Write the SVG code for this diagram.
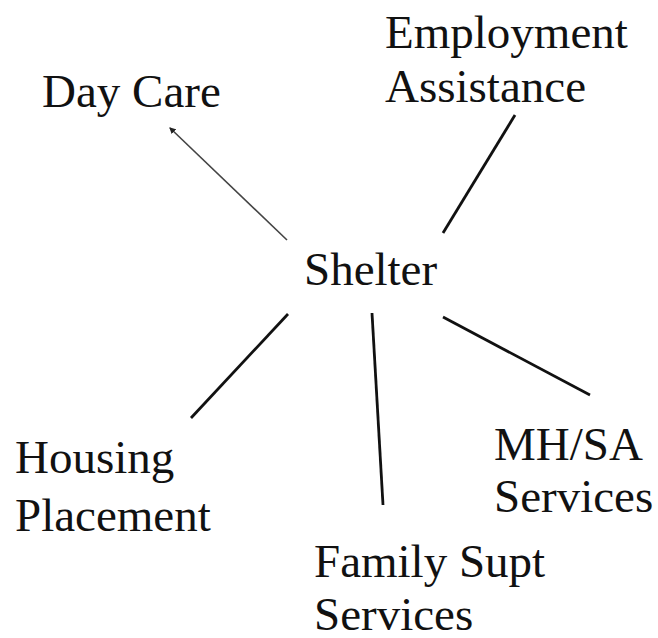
<svg xmlns="http://www.w3.org/2000/svg" width="658" height="638" viewBox="0 0 658 638">
  <style>
    text { font-family: "Liberation Serif", "Times New Roman", serif; font-size: 47px; fill: #111; }
    .link { fill: none; stroke: #111; stroke-width: 2.8; stroke-linecap: butt; }
    .thin { fill: none; stroke: #444; stroke-width: 1.6; }
  </style>
  <defs>
    <marker id="tip" viewBox="0 0 6 6" refX="5" refY="3" markerWidth="4" markerHeight="4" orient="auto" markerUnits="strokeWidth">
      <path d="M0,0 L6,3 L0,6 Z" fill="#222"/>
    </marker>
  </defs>
  <rect width="658" height="638" fill="#fff"/>

  <!-- spokes from the central node -->
  <g id="connectors">
    <line class="thin" x1="287" y1="240" x2="170" y2="128" marker-end="url(#tip)"/>
    <line class="link" x1="443" y1="233" x2="515" y2="115"/>
    <line class="link" x1="288" y1="314" x2="191" y2="418"/>
    <line class="link" x1="372" y1="313" x2="383" y2="505"/>
    <line class="link" x1="443" y1="317" x2="590" y2="395"/>
  </g>

  <g id="shelter"><text x="304" y="285">Shelter</text></g>
  <g id="day-care"><text x="42" y="107">Day Care</text></g>
  <g id="employment">
    <text x="385" y="48">Employment</text>
    <text x="385" y="102">Assistance</text>
  </g>
  <g id="housing">
    <text x="15" y="473">Housing</text>
    <text x="15" y="531">Placement</text>
  </g>
  <g id="mhsa">
    <text x="494" y="460">MH/SA</text>
    <text x="494" y="512">Services</text>
  </g>
  <g id="family">
    <text x="314" y="577">Family Supt</text>
    <text x="314" y="630">Services</text>
  </g>
</svg>
